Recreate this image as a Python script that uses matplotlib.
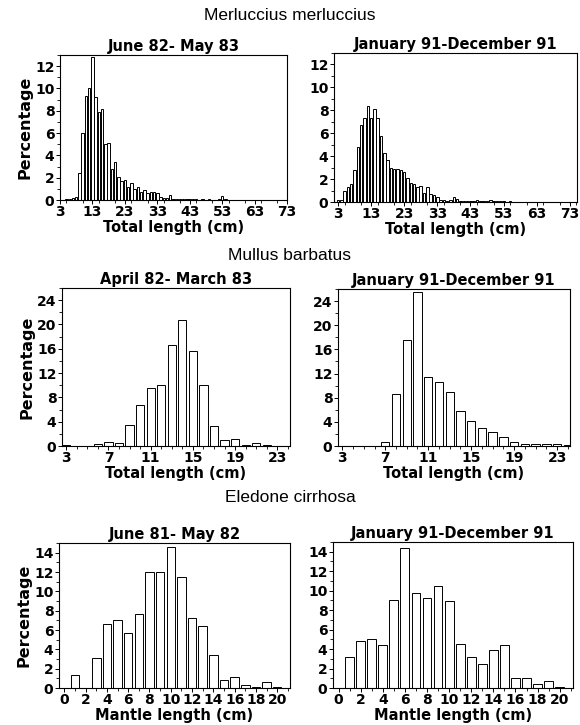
import matplotlib
matplotlib.use('Agg')
import matplotlib.pyplot as plt
from matplotlib.ticker import MultipleLocator

plt.rcParams['font.family'] = ['DejaVu Sans']

# Merluccius merluccius, length classes 3..55 cm
merl_len = list(range(3, 56))
merl_8283 = [0, 0, 0.05, 0.1, 0.2, 0.3, 2.4, 6.0, 9.3, 10.0, 12.8, 9.2, 7.9, 8.2, 5.0, 5.1,
             2.8, 3.4, 2.1, 1.7, 1.8, 1.2, 1.5, 1.0, 1.2, 0.7, 0.9, 0.6, 0.7, 0.7, 0.6, 0.3,
             0.2, 0.15, 0.45, 0.05, 0.05, 0.05, 0.05, 0.1, 0.05, 0.05, 0.05, 0, 0.05, 0,
             0.05, 0, 0, 0.05, 0.35, 0.05, 0]
merl_91 = [0.2, 0.2, 1.0, 1.3, 1.6, 2.8, 4.8, 6.7, 7.3, 8.4, 7.3, 8.1, 7.3, 5.8, 4.3, 3.7,
           3.0, 2.9, 2.9, 2.8, 2.6, 2.1, 1.7, 1.6, 1.3, 1.4, 0.8, 1.3, 0.7, 0.6, 0.4, 0.2,
           0.2, 0.1, 0.2, 0.4, 0.3, 0.1, 0.05, 0.1, 0.05, 0.1, 0.2, 0.05, 0.1, 0.1, 0.2,
           0.1, 0.05, 0.05, 0.05, 0, 0.05]

# Mullus barbatus, 3..24 cm
mull_len = list(range(3, 25))
mull_8283 = [0.1, 0, 0.05, 0.4, 0.7, 0.55, 3.4, 6.7, 9.5, 10.0, 16.7, 20.8, 15.6, 10.0,
             3.3, 1.0, 1.2, 0.2, 0.5, 0.1, 0.05, 0]
mull_91 = [0, 0, 0, 0.05, 0.7, 8.6, 17.5, 25.5, 11.4, 10.6, 9.0, 5.8, 4.2, 3.0, 2.4, 1.5,
           0.7, 0.3, 0.3, 0.3, 0.3, 0.1]

# Eledone cirrhosa, mantle length 1..21 cm
ele_len = list(range(1, 22))
ele_8182 = [1.3, 0, 3.1, 6.6, 7.0, 5.7, 7.7, 12.0, 12.0, 14.6, 11.5, 7.2, 6.4, 3.4, 0.8,
            1.1, 0.3, 0.15, 0.6, 0.1, 0]
ele_91 = [3.2, 4.8, 5.0, 4.4, 9.0, 14.4, 9.8, 9.2, 10.5, 8.9, 4.5, 3.2, 2.5, 3.9, 4.4,
          1.0, 1.0, 0.4, 0.7, 0.1, 0.05]

W, H = 580, 725
fig = plt.figure(figsize=(W / 100, H / 100), dpi=100)


def rect(l, r, t, b):
    return [l / W, 1 - b / H, (r - l) / W, (b - t) / H]


def panel(box, x, y, title, xlim, ylim, xticks, ymaj, ymin, xminor, xlabel,
          width, ylab):
    ax = fig.add_axes(rect(*box))
    ax.bar(x, y, width=width, facecolor='white', edgecolor='black', linewidth=0.7)
    ax.set_xlim(*xlim)
    ax.set_ylim(*ylim)
    ax.set_xticks(xticks)
    ax.xaxis.set_minor_locator(MultipleLocator(xminor))
    ax.yaxis.set_major_locator(MultipleLocator(ymaj))
    ax.yaxis.set_minor_locator(MultipleLocator(ymin))
    ax.tick_params(which='major', length=3, width=0.7, pad=1, labelsize=10)
    ax.tick_params(axis='x', which='major', pad=0.5)
    ax.tick_params(which='minor', length=2, width=0.6)
    for lbl in ax.get_xticklabels() + ax.get_yticklabels():
        lbl.set_fontweight('bold')
    for s in ax.spines.values():
        s.set_linewidth(0.8)
    ax.set_title(title, fontsize=10.5, fontweight='bold', pad=3)
    ax.set_xlabel(xlabel, fontsize=10.5, fontweight='bold', labelpad=0.5)
    if ylab:
        ax.set_ylabel('Percentage', fontsize=11.5, fontweight='bold', labelpad=2)
    return ax


merl_ticks = list(range(3, 74, 10))
panel((60, 287, 55, 200), merl_len, merl_8283, 'June 82- May 83', (3, 71.8), (0, 13),
      merl_ticks, 2, 1, 5, 'Total length (cm)', 0.75, True)
panel((334, 577, 53, 202), merl_len, merl_91, 'January 91-December 91', (1.8, 75.2),
      (0, 13), merl_ticks, 2, 1, 5, 'Total length (cm)', 0.75, False)

mull_ticks = list(range(3, 24, 4))
panel((62, 290, 288, 446), mull_len, mull_8283, 'April 82- March 83', (2.6, 24.2),
      (0, 26), mull_ticks, 4, 2, 1, 'Total length (cm)', 0.78, True)
panel((338, 570, 289, 446), mull_len, mull_91, 'January 91-December 91', (2.6, 24.2),
      (0, 26), mull_ticks, 4, 2, 1, 'Total length (cm)', 0.78, False)

ele_ticks = list(range(0, 21, 2))
panel((59, 290, 543, 688), ele_len, ele_8182, 'June 81- May 82', (-0.5, 21.2),
      (0, 15), ele_ticks, 2, 1, 1, 'Mantle length (cm)', 0.8, True)
panel((333, 573, 542, 688), ele_len, ele_91, 'January 91-December 91', (-0.5, 21.2),
      (0, 15), ele_ticks, 2, 1, 1, 'Mantle length (cm)', 0.8, False)

for txt, y in [('Merluccius merluccius', 15), ('Mullus barbatus', 255),
               ('Eledone cirrhosa', 497)]:
    fig.text(0.5, 1 - y / H, txt, ha='center', va='center', fontsize=12.5,
             family='Liberation Sans')

fig.savefig('out.png', dpi=100)
